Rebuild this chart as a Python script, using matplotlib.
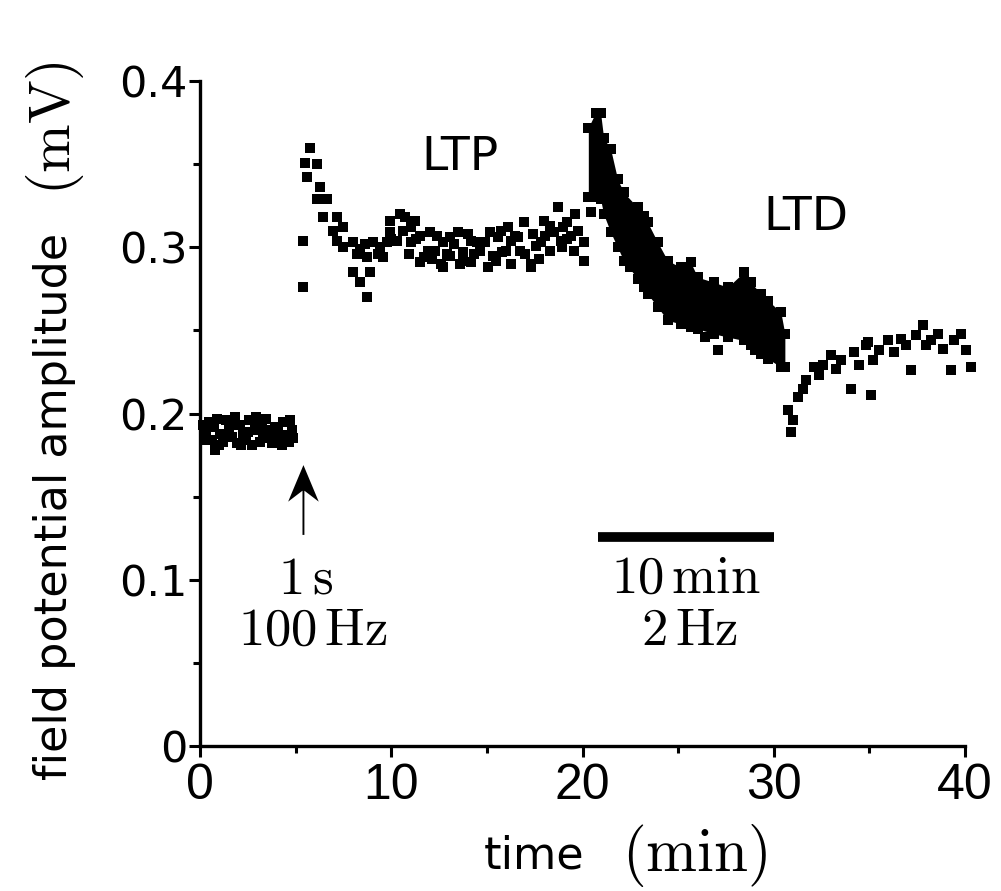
import matplotlib
matplotlib.use("Agg")
import matplotlib.pyplot as plt

plt.rcParams["mathtext.fontset"] = "cm"

# baseline before tetanus
base_t = [0.3, 0.45, 0.6, 0.75, 0.9, 1.05, 1.2, 1.35, 1.5, 1.65, 1.8, 1.95, 2.1, 2.25, 2.4, 2.55,
          2.7, 2.85, 3.0, 3.15, 3.3, 3.45, 3.6, 3.75, 3.9, 4.05, 4.2, 4.35, 4.5, 4.65, 4.8,
          0.15, 0.2, 0.35, 0.7, 1.0, 1.4, 1.75, 2.15, 2.5, 2.9, 3.25, 3.55, 3.95, 4.3, 4.7, 4.85]
base_y = [0.190, 0.195, 0.184, 0.178, 0.197, 0.188, 0.183, 0.196, 0.190, 0.186, 0.198, 0.182,
          0.193, 0.187, 0.184, 0.196, 0.181, 0.190, 0.194, 0.183, 0.188, 0.197, 0.185, 0.182,
          0.192, 0.189, 0.184, 0.195, 0.187, 0.183, 0.190,
          0.193, 0.186, 0.184, 0.192, 0.181, 0.187, 0.193, 0.181, 0.189, 0.198, 0.193, 0.190,
          0.185, 0.181, 0.196, 0.185]

# LTP phase
ltp_t = [5.39, 5.39, 5.76, 5.5, 6.13, 5.6, 6.28, 6.13, 6.65, 6.44, 7.17, 6.96, 7.49, 7.17, 7.49,
         8.01, 8.38, 8.74, 9.06, 9.42, 9.58, 9.95, 9.95, 8.01, 8.9, 8.38, 8.74, 10.31, 10.47,
         10.73, 11.0, 11.0, 11.68, 12.04, 12.57, 12.72, 12.72, 13.09, 13.46, 13.77, 13.77, 14.5,
         15.03, 15.18, 15.55, 15.71, 16.23, 16.23, 16.75, 16.91, 17.28, 17.28, 17.8, 18.69, 19.0,
         19.21, 19.74, 20.05, 20.05, 11.26, 11.52, 12.3, 13.09, 14.14, 14.14, 14.66, 15.45, 15.97,
         16.49, 17.54, 18.06, 18.32, 18.32, 18.85, 19.37, 19.53,
         10.0, 10.6, 11.3, 11.9, 12.1, 12.4, 12.9, 13.3, 13.6, 14.0, 14.3, 14.9, 15.3, 15.8, 16.1,
         16.6, 17.0, 17.4, 17.7, 18.0, 18.5, 18.9, 19.2, 19.6, 8.2, 8.6, 9.3, 9.75, 10.9, 11.5]
ltp_y = [0.304, 0.276, 0.360, 0.351, 0.350, 0.342, 0.336, 0.329, 0.329, 0.318, 0.318, 0.310,
         0.312, 0.304, 0.300, 0.303, 0.299, 0.294, 0.303, 0.300, 0.294, 0.316, 0.309, 0.285,
         0.285, 0.279, 0.270, 0.304, 0.320, 0.318, 0.312, 0.303, 0.294, 0.309, 0.290, 0.303,
         0.288, 0.306, 0.309, 0.297, 0.292, 0.303, 0.288, 0.309, 0.306, 0.310, 0.304, 0.290,
         0.298, 0.315, 0.290, 0.288, 0.303, 0.324, 0.312, 0.315, 0.310, 0.303, 0.292, 0.316,
         0.307, 0.298, 0.295, 0.304, 0.291, 0.298, 0.292, 0.298, 0.307, 0.301, 0.307, 0.313,
         0.298, 0.304, 0.307, 0.298,
         0.305, 0.310, 0.305, 0.298, 0.293, 0.307, 0.296, 0.302, 0.290, 0.308, 0.296, 0.303,
         0.295, 0.297, 0.312, 0.306, 0.296, 0.308, 0.293, 0.316, 0.309, 0.300, 0.305, 0.320,
         0.296, 0.302, 0.296, 0.303, 0.296, 0.291]

# LTD induction at 2 Hz: dense band read as upper/lower envelope
ltd_t = [20.3, 20.68, 20.94, 21.1, 21.47, 21.83, 22.15, 22.88, 23.19, 23.4, 23.93, 24.45,
         25.13, 25.65, 26.02, 26.86, 27.59, 28.43, 28.8, 29.32, 29.69, 30.37, 30.58]
ltd_top = [0.372, 0.381, 0.381, 0.366, 0.359, 0.341, 0.333, 0.324, 0.319, 0.315, 0.303, 0.292,
           0.288, 0.291, 0.282, 0.279, 0.276, 0.285, 0.279, 0.272, 0.268, 0.261, 0.248]
ltd_bottom = [0.330, 0.330, 0.329, 0.320, 0.309, 0.300, 0.292, 0.281, 0.276, 0.272, 0.264,
              0.256, 0.254, 0.252, 0.251, 0.248, 0.246, 0.244, 0.241, 0.236, 0.233, 0.228, 0.228]
ltd_extra_t = [20.42, 27.07, 24.9, 26.4, 29.0, 22.5]
ltd_extra_y = [0.321, 0.238, 0.262, 0.246, 0.238, 0.288]

# recovery after LTD
rec_t = [30.73, 30.89, 31.0, 31.26, 31.52, 31.68, 32.09, 32.36, 32.57, 32.98, 33.25, 33.51,
         34.03, 34.19, 34.45, 34.82, 34.92, 35.08, 35.18, 35.5, 35.97, 36.28, 36.65, 36.91,
         37.17, 37.43, 37.8, 37.96, 38.22, 38.59, 38.85, 39.27, 39.42, 39.79, 40.05, 40.31]
rec_y = [0.202, 0.189, 0.196, 0.210, 0.215, 0.220, 0.228, 0.223, 0.229, 0.235, 0.227, 0.232,
         0.215, 0.237, 0.229, 0.241, 0.243, 0.211, 0.232, 0.238, 0.244, 0.237, 0.245, 0.241,
         0.226, 0.247, 0.253, 0.241, 0.244, 0.248, 0.239, 0.226, 0.244, 0.248, 0.238, 0.228]

x_ticks = [0, 10, 20, 30, 40]
x_minor = [5, 15, 25, 35]
y_ticks = [0, 0.1, 0.2, 0.3, 0.4]
y_minor = [0.05, 0.15, 0.25, 0.35]
y_labels = ["0", "0.1", "0.2", "0.3", "0.4"]

tetanus_t = 5.4
stim_start, stim_end, stim_level = 20.8, 30.0, 0.126

fig = plt.figure(figsize=(10.01, 8.91), dpi=100)
ax = fig.add_axes([0.2, 0.1627, 0.764, 0.7463])

mk = dict(ls="none", marker="s", ms=6.5, mew=0, color="black", clip_on=False)
ax.plot(base_t, base_y, **mk)
ax.plot(ltp_t, ltp_y, **mk)
ax.fill_between(ltd_t, ltd_bottom, ltd_top, color="black", lw=0)
ax.plot(ltd_t, ltd_top, **mk)
ax.plot(ltd_t, ltd_bottom, **mk)
ax.plot(ltd_extra_t, ltd_extra_y, **mk)
ax.plot(rec_t, rec_y, **mk)

# stimulation markers: arrow for tetanus, bar for 2 Hz train
ax.arrow(tetanus_t, 0.127, 0, 0.042, width=0.1, head_width=1.6, head_length=0.022,
         overhang=0.3, length_includes_head=True, color="black", lw=0)
ax.plot([stim_start, stim_end], [stim_level, stim_level], color="black", lw=7,
        solid_capstyle="butt")

ax.text(5.5, 0.101, r"$1\,\mathrm{s}$", ha="center", va="center", fontsize=38)
ax.text(5.9, 0.070, r"$100\,\mathrm{Hz}$", ha="center", va="center", fontsize=38)
ax.text(25.4, 0.101, r"$10\,\mathrm{min}$", ha="center", va="center", fontsize=38)
ax.text(25.6, 0.070, r"$2\,\mathrm{Hz}$", ha="center", va="center", fontsize=38)
ax.text(13.6, 0.354, "LTP", ha="center", va="center", fontsize=34, family="DejaVu Sans")
ax.text(31.7, 0.318, "LTD", ha="center", va="center", fontsize=34, family="DejaVu Sans")

ax.set_xlim(0, 40)
ax.set_ylim(0, 0.4)
ax.set_xticks(x_ticks)
ax.set_xticklabels([str(v) for v in x_ticks])
ax.set_xticks(x_minor, minor=True)
ax.set_yticks(y_ticks)
ax.set_yticklabels(y_labels)
ax.set_yticks(y_minor, minor=True)

for s in ["top", "right"]:
    ax.spines[s].set_visible(False)
for s in ["left", "bottom"]:
    ax.spines[s].set_linewidth(2.4)

ax.tick_params(which="major", length=8, width=2.2, direction="out")
ax.tick_params(which="minor", length=5, width=2.2, direction="out")
ax.tick_params(axis="y", pad=1, labelsize=31)
ax.tick_params(axis="x", pad=4, labelsize=36)
for lab in ax.get_yticklabels():
    lab.set_family("DejaVu Sans")
for lab in ax.get_xticklabels():
    lab.set_family(["Liberation Sans", "DejaVu Sans"])

# axis labels: sans words with serif units
ax.text(-0.19, 0.36, "field potential amplitude", transform=ax.transAxes, rotation=90,
        ha="center", va="center", fontsize=32, family="DejaVu Sans")
ax.text(-0.19, 0.93, r"$\mathrm{(mV)}$", transform=ax.transAxes, rotation=90,
        ha="center", va="center", fontsize=42)
ax.text(0.437, -0.165, "time", transform=ax.transAxes, ha="center", va="center",
        fontsize=32, family="DejaVu Sans")
ax.text(0.647, -0.165, r"$\mathrm{(min)}$", transform=ax.transAxes, ha="center",
        va="center", fontsize=44)

fig.savefig("out.png", dpi=100)
